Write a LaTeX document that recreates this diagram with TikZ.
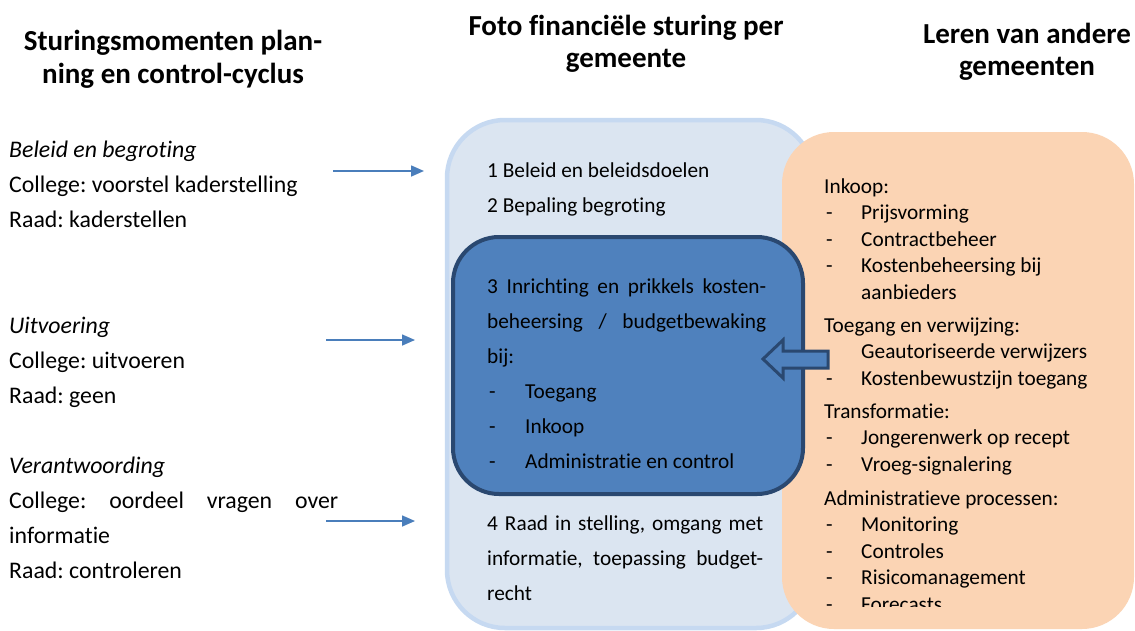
\documentclass[tikz,border=0pt]{standalone}
\usepackage{fontspec}
\setmainfont{Carlito}[Ligatures={NoCommon,NoContextual}]
\usetikzlibrary{arrows.meta}
\definecolor{lightfill}{HTML}{DBE5F1}
\definecolor{lightedge}{HTML}{C6D9F1}
\definecolor{peach}{HTML}{FBD4B4}
\definecolor{midblue}{HTML}{4F81BD}
\definecolor{darkedge}{HTML}{2A4870}
\definecolor{arrowblue}{HTML}{4A7EBB}
\frenchspacing
\begin{document}
\begin{tikzpicture}[x=1pt,y=-1pt,
  lefttxt/.style={anchor=base west,inner sep=0pt,font=\fontsize{23.8}{28}\selectfont},
  midtxt/.style={anchor=base west,inner sep=0pt,font=\fontsize{21.3}{26}\selectfont},
  headtxt/.style={anchor=base,inner sep=0pt,font=\fontsize{29}{34}\selectfont\bfseries},
  thinarrow/.style={draw=arrowblue,line width=1.6pt,-{Triangle[length=13pt,width=11pt]}},
  outerbox/.style={fill=lightfill,draw=lightedge,line width=4.5pt,rounded corners=58pt},
  peachbox/.style={fill=peach,rounded corners=52pt},
  innerbox/.style={fill=midblue,draw=darkedge,line width=4pt,rounded corners=46pt},
  blockarrow/.style={fill=midblue,draw=darkedge,line width=3pt,line join=miter}
]
\useasboundingbox (0,0) rectangle (1135,630);
\fill[white] (0,0) rectangle (1135,630);

% headings
\node[headtxt] (h1a) at (173,50) {Sturingsmomenten plan-};
\node[headtxt] (h1b) at (173,83) {ning en control-cyclus};
\node[headtxt] (h2a) at (626,35) {Foto financiële sturing per};
\node[headtxt] (h2b) at (626,67) {gemeente};
\node[headtxt] (h3a) at (1027,43) {Leren van andere};
\node[headtxt] (h3b) at (1027,75) {gemeenten};

% boxes
\draw[outerbox] (447,120) rectangle (814,628);
\fill[peachbox] (782,132) rectangle (1134,629);
\draw[innerbox] (453,237) rectangle (803,494);

% left column
\node[lefttxt] (l1) at (9,157) {\itshape Beleid en begroting};
\node[lefttxt] (l2) at (9,192) {College: voorstel kaderstelling};
\node[lefttxt] (l3) at (9,227) {Raad: kaderstellen};
\node[lefttxt] (l4) at (9,333) {\itshape Uitvoering};
\node[lefttxt] (l5) at (9,368) {College: uitvoeren};
\node[lefttxt] (l6) at (9,403) {Raad: geen};
\node[lefttxt] (l7) at (9,473) {\itshape Verantwoording};
\node[lefttxt] (l8) at (9,508) {\makebox[329pt][s]{College: oordeel vragen over}};
\node[lefttxt] (l9) at (9,543) {informatie};
\node[lefttxt] (l10) at (9,578) {Raad: controleren};

% left arrows
\coordinate (a1s) at (333,171); \coordinate (a1e) at (424,171);
\coordinate (a2s) at (326,340); \coordinate (a2e) at (415,340);
\coordinate (a3s) at (326,521); \coordinate (a3e) at (415,521);
\draw[thinarrow] (a1s) -- (a1e);
\draw[thinarrow] (a2s) -- (a2e);
\draw[thinarrow] (a3s) -- (a3e);

% middle column
\node[midtxt] (m1) at (487,177) {1 Beleid en beleidsdoelen};
\node[midtxt] (m2) at (487,212) {2 Bepaling begroting};
\node[midtxt] (m3) at (487,293) {\makebox[279pt][s]{3 Inrichting en prikkels kosten-}};
\node[midtxt] (m4) at (487,328) {\makebox[279pt][s]{beheersing / budgetbewaking}};
\node[midtxt] (m5) at (487,363) {bij:};
\node[midtxt] (m6d) at (489,398) {-};
\node[midtxt] (m6) at (525,398) {Toegang};
\node[midtxt] (m7d) at (489,433) {-};
\node[midtxt] (m7) at (525,433) {Inkoop};
\node[midtxt] (m8d) at (489,468) {-};
\node[midtxt] (m8) at (525,468) {Administratie en control};
\node[midtxt] (m9) at (487,530) {\makebox[276pt][s]{4 Raad in stelling, omgang met}};
\node[midtxt] (m10) at (487,565) {\makebox[276pt][s]{informatie, toepassing budget-}};
\node[midtxt] (m11) at (487,600) {recht};

% right column
\node[midtxt] (r1) at (824,193) {Inkoop:};
\node[midtxt] (r2d) at (826,219.5) {-};
\node[midtxt] (r2) at (861,219.5) {Prijsvorming};
\node[midtxt] (r3d) at (826,246) {-};
\node[midtxt] (r3) at (861,246) {Contractbeheer};
\node[midtxt] (r4d) at (826,272.5) {-};
\node[midtxt] (r4) at (861,272.5) {Kostenbeheersing bij};
\node[midtxt] (r5) at (861,299) {aanbieders};
\node[midtxt] (r6) at (824,332) {Toegang en verwijzing:};
\node[midtxt] (r7) at (861,358.5) {Geautoriseerde verwijzers};
\node[midtxt] (r8d) at (826,385) {-};
\node[midtxt] (r8) at (861,385) {Kostenbewustzijn toegang};
\node[midtxt] (r9) at (824,418) {Transformatie:};
\node[midtxt] (r10d) at (826,444.5) {-};
\node[midtxt] (r10) at (861,444.5) {Jongerenwerk op recept};
\node[midtxt] (r11d) at (826,471) {-};
\node[midtxt] (r11) at (861,471) {Vroeg-signalering};
\node[midtxt] (r12) at (824,505) {Administratieve processen:};
\node[midtxt] (r13d) at (826,531.5) {-};
\node[midtxt] (r13) at (861,531.5) {Monitoring};
\node[midtxt] (r14d) at (826,558) {-};
\node[midtxt] (r14) at (861,558) {Controles};
\node[midtxt] (r15d) at (826,584.5) {-};
\node[midtxt] (r15) at (861,584.5) {Risicomanagement};
\begin{scope}
\clip (780,590) rectangle (1135,606);
\node[midtxt] (r16d) at (826,611) {-};
\node[midtxt] (r16) at (861,611) {Forecasts};
\end{scope}

% block arrow
\draw[blockarrow] (763,359) -- (783,340) -- (783,351) -- (828,351) -- (828,368) -- (783,368) -- (783,378) -- cycle;
\end{tikzpicture}
\end{document}
